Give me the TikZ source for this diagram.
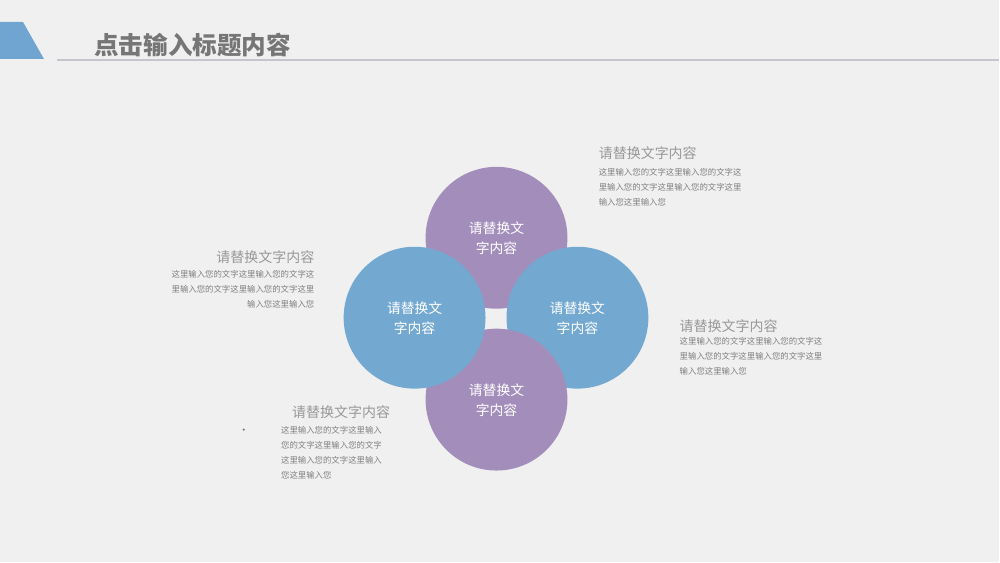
\documentclass[tikz,border=0pt]{standalone}
\usepackage{fontspec}
\setmainfont{Noto Sans CJK SC}
\usetikzlibrary{positioning, calc}
\definecolor{bgGray}{RGB}{240,240,240}
\definecolor{titleGray}{RGB}{118,118,118}
\definecolor{ruleGray}{RGB}{196,197,205}
\definecolor{tabBlue}{RGB}{112,165,209}
\definecolor{ballPurple}{RGB}{163,141,187}
\definecolor{ballBlue}{RGB}{115,168,209}
\definecolor{headGray}{RGB}{152,152,152}
\definecolor{bodyGray}{RGB}{128,128,128}

\begin{document}
\begin{tikzpicture}[x=0.5pt, y=-0.5pt,
    ball/.style = {circle, minimum size=71pt, inner sep=0pt, align=center, text depth=-2.2pt, text=white, font=\fontsize{6.9}{10}\selectfont},
    purpleball/.style = {ball, fill=ballPurple},
    blueball/.style = {ball, fill=ballBlue},
    head/.style = {inner sep=0pt, text=headGray, font=\fontsize{7}{8}\selectfont},
    body/.style = {inner sep=0pt, text=bodyGray, font=\fontsize{4.2}{7.5}\selectfont}]
        \fill[bgGray] (0,0) rectangle (1000,563); % 背景
        \fill[tabBlue] (0,22) -- (23,22) -- (44,59) -- (0,59) -- cycle;
        \coordinate (ruleL) at (57,60);
        \coordinate (ruleR) at (1000,60);
        \draw[ruleGray, line width=1pt] (ruleL) -- (ruleR);
        \node[anchor=west, inner sep=0pt, text=titleGray, font=\bfseries\fontsize{12.3}{14}\selectfont] (title) at (94,45) {点击输入标题内容};
        % 四个圆
        \coordinate (mid) at (497,318);
        \node[purpleball] (top) at ($(mid)+(0,-80)$) {请替换文\\字内容};
        \node[blueball] (right) at ($(mid)+(81,0)$) {请替换文\\字内容};
        \node[purpleball] (bottom) at ($(mid)+(0,82)$) {请替换文\\字内容};
        \node[blueball] (left) at ($(mid)+(-82,0)$) {请替换文\\字内容};
        % 说明文字
        \node[head, anchor=west] (hTR) at (599,153) {请替换文字内容};
        \node[body, anchor=west, align=left] (bTR) at (599,187) {这里输入您的文字这里输入您的文字这\\里输入您的文字这里输入您的文字这里\\输入您这里输入您};
        \node[head, anchor=east] (hL) at (315,257) {请替换文字内容};
        \node[body, anchor=east, align=right] (bL) at (315,290) {这里输入您的文字这里输入您的文字这\\里输入您的文字这里输入您的文字这里\\输入您这里输入您};
        \node[head, anchor=west] (hR) at (680,326) {请替换文字内容};
        \node[body, anchor=west, align=left] (bR) at (680,357) {这里输入您的文字这里输入您的文字这\\里输入您的文字这里输入您的文字这里\\输入您这里输入您};
        \node[head, anchor=west] (hB) at (292,413) {请替换文字内容};
        \node[body, anchor=west, align=left] (bB) at (281,453) {这里输入您的文字这里输入\\您的文字这里输入您的文字\\这里输入您的文字这里输入\\您这里输入您};
        \fill[bodyGray] (244,430) circle (0.6pt);
    \end{tikzpicture}
\end{document}
